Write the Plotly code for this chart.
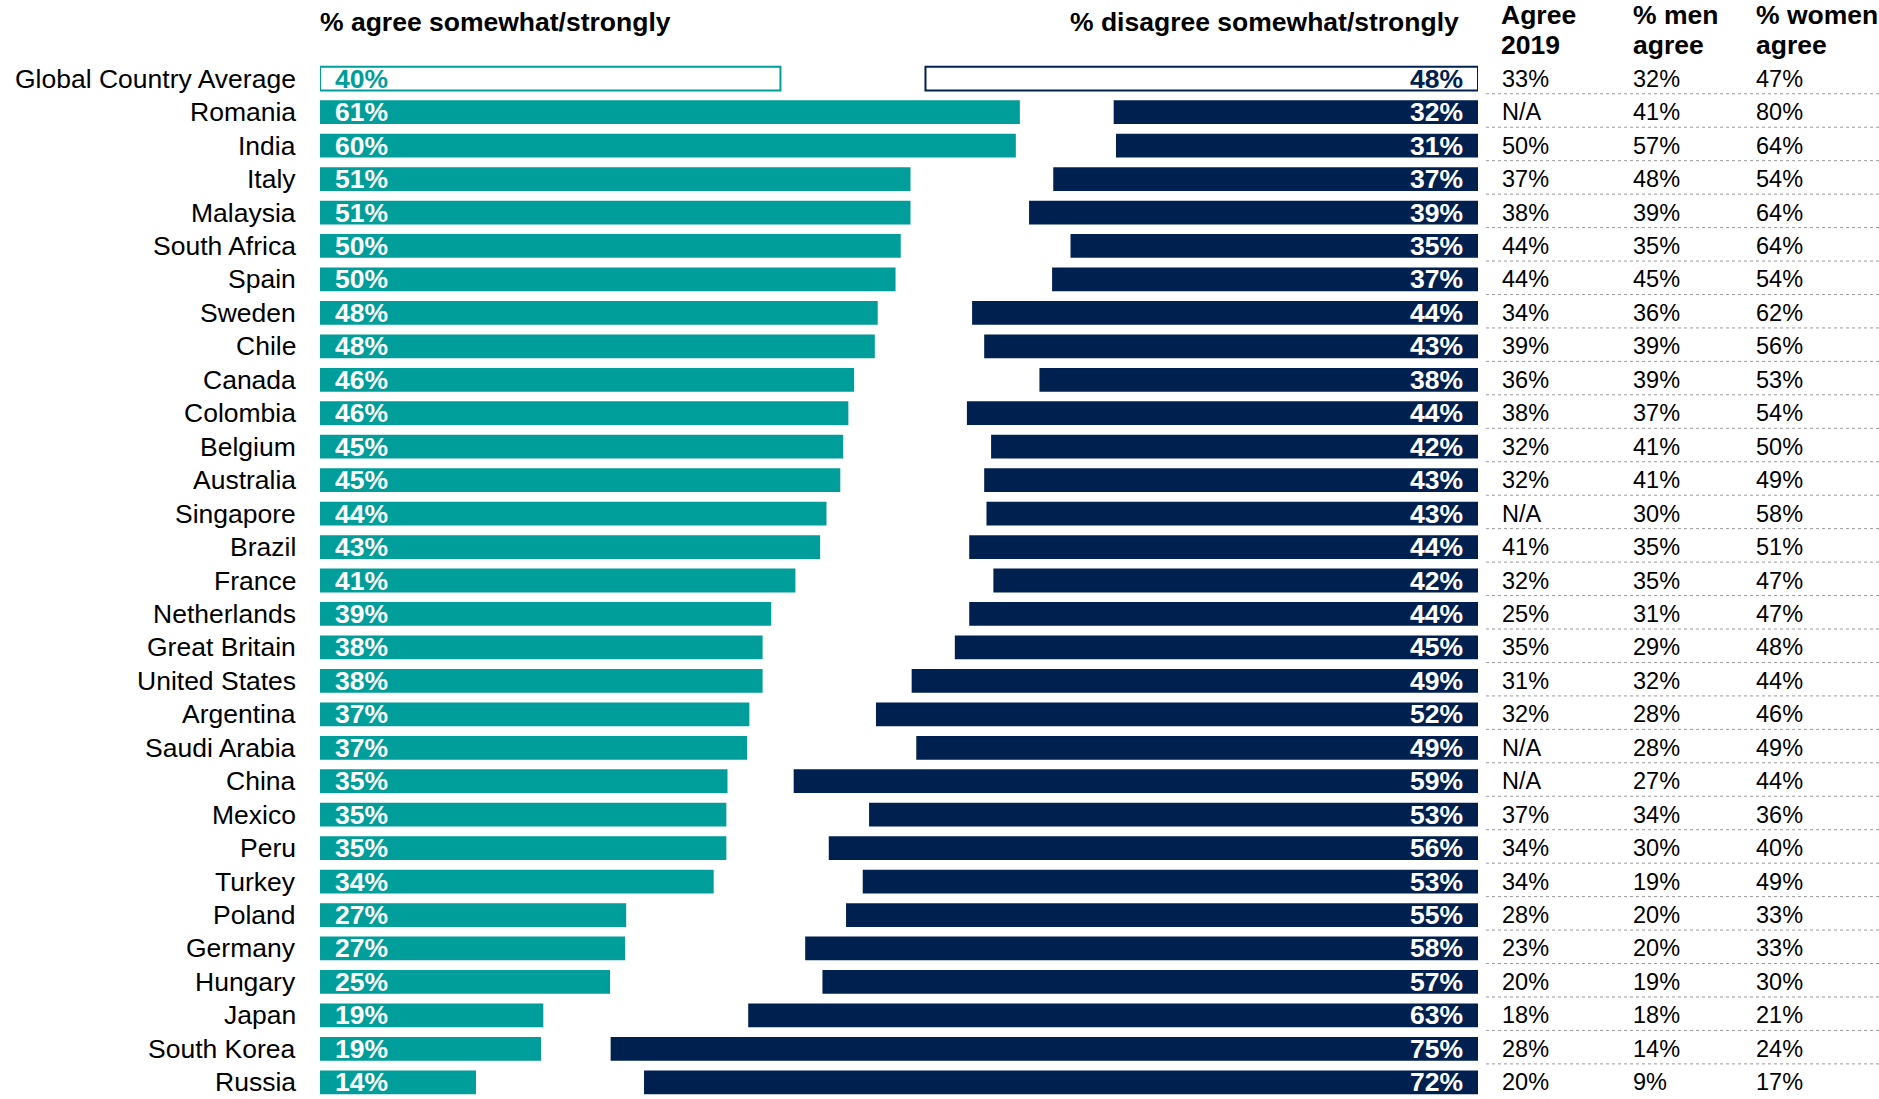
import plotly.graph_objects as go

# ---------------- data ----------------
countries = ["Global Country Average", "Romania", "India", "Italy", "Malaysia", "South Africa",
             "Spain", "Sweden", "Chile", "Canada", "Colombia", "Belgium", "Australia",
             "Singapore", "Brazil", "France", "Netherlands", "Great Britain", "United States",
             "Argentina", "Saudi Arabia", "China", "Mexico", "Peru", "Turkey", "Poland",
             "Germany", "Hungary", "Japan", "South Korea", "Russia"]

agree = [40.0, 60.8, 60.45, 51.3, 51.3, 50.45, 50.0, 48.45, 48.2, 46.4, 45.9, 45.45, 45.2,
         44.0, 43.45, 41.3, 39.2, 38.45, 38.45, 37.3, 37.1, 35.4, 35.3, 35.3, 34.2, 26.6,
         26.5, 25.2, 19.4, 19.2, 13.55]

disagree = [48.0, 31.65, 31.45, 36.9, 39.0, 35.4, 37.0, 43.95, 42.9, 38.1, 44.4, 42.3, 42.9,
            42.7, 44.2, 42.1, 44.2, 45.45, 49.2, 52.3, 48.8, 59.45, 52.9, 56.4, 53.45, 54.9,
            58.45, 56.95, 63.4, 75.35, 72.45]

agree_2019 = ["33%", "N/A", "50%", "37%", "38%", "44%", "44%", "34%", "39%", "36%", "38%",
              "32%", "32%", "N/A", "41%", "32%", "25%", "35%", "31%", "32%", "N/A", "N/A",
              "37%", "34%", "34%", "28%", "23%", "20%", "18%", "28%", "20%"]
men_agree = [32, 41, 57, 48, 39, 35, 45, 36, 39, 39, 37, 41, 41, 30, 35, 35, 31, 29, 32, 28,
             28, 27, 34, 30, 19, 20, 20, 19, 18, 14, 9]
women_agree = [47, 80, 64, 54, 64, 64, 54, 62, 56, 53, 54, 50, 49, 58, 51, 47, 47, 48, 44, 46,
               49, 44, 36, 40, 49, 33, 33, 30, 21, 24, 17]

header_agree = "% agree somewhat/strongly"
header_disagree = "% disagree somewhat/strongly"
table_headers = [("Agree", "2019"), ("% men", "agree"), ("% women", "agree")]

# ---------------- layout constants ----------------
W, H = 1879, 1099
ML, MR, MT, MB = 320, 401, 62, 0
PW = W - ML - MR
PH = H - MT - MB
R = 100.6
TEAL = "#009E9A"
NAVY = "#00214F"
FONT = "Liberation Sans, Arial, sans-serif"
BIG = 26.5
SMALL = 23.5


def px_x(p):
    return (p - ML) / PW


def px_y(p):
    return 1 + (MT - p) / PH


n = len(countries)
fig = go.Figure()

fig.add_trace(go.Bar(
    y=countries, x=agree, orientation="h", xaxis="x", yaxis="y", width=0.71,
    marker=dict(color=["white"] + [TEAL] * (n - 1),
                line=dict(color=TEAL, width=[2] + [0] * (n - 1))),
    hoverinfo="skip"))

fig.add_trace(go.Bar(
    y=countries, x=disagree, orientation="h", xaxis="x2", yaxis="y", width=0.71,
    marker=dict(color=["white"] + [NAVY] * (n - 1),
                line=dict(color=NAVY, width=[2] + [0] * (n - 1))),
    hoverinfo="skip"))

ann = []
for i, c in enumerate(countries):
    # country label
    ann.append(dict(x=0, xref="paper", xanchor="right", xshift=-22, y=c, yref="y",
                    text=c, showarrow=False, font=dict(family=FONT, size=BIG, color="black")))
    # bar labels
    ann.append(dict(x=0, xref="x", xanchor="left", xshift=13, y=c, yref="y",
                    text=f"<b>{int(agree[i] + 0.5)}%</b>", showarrow=False,
                    font=dict(family=FONT, size=BIG, color=TEAL if i == 0 else "white")))
    ann.append(dict(x=0, xref="x2", xanchor="right", xshift=-13, y=c, yref="y",
                    text=f"<b>{int(disagree[i] + 0.5)}%</b>", showarrow=False,
                    font=dict(family=FONT, size=BIG, color=NAVY if i == 0 else "white")))
    # table values
    for col_px, val in ((1500, agree_2019[i]), (1631, f"{men_agree[i]}%"), (1754, f"{women_agree[i]}%")):
        ann.append(dict(x=px_x(col_px), xref="paper", xanchor="left", y=c, yref="y",
                        text=val, showarrow=False,
                        font=dict(family=FONT, size=SMALL, color="black")))

# headers
ann.append(dict(x=px_x(318), xref="paper", xanchor="left", y=px_y(22), yref="paper",
                yanchor="middle", text=f"<b>{header_agree}</b>", showarrow=False,
                font=dict(family=FONT, size=BIG, color="black")))
ann.append(dict(x=px_x(1461), xref="paper", xanchor="right", y=px_y(22), yref="paper",
                yanchor="middle", text=f"<b>{header_disagree}</b>", showarrow=False,
                font=dict(family=FONT, size=BIG, color="black")))
for col_px, (l1, l2) in zip((1499, 1631, 1754), table_headers):
    ann.append(dict(x=px_x(col_px), xref="paper", xanchor="left", y=px_y(15), yref="paper",
                    yanchor="middle", text=f"<b>{l1}</b>", showarrow=False,
                    font=dict(family=FONT, size=BIG, color="black")))
    ann.append(dict(x=px_x(col_px), xref="paper", xanchor="left", y=px_y(45), yref="paper",
                    yanchor="middle", text=f"<b>{l2}</b>", showarrow=False,
                    font=dict(family=FONT, size=BIG, color="black")))

shapes = []
for k in range(n):
    yb = k - 0.55
    shapes.append(dict(type="line", xref="paper", x0=px_x(1486), x1=px_x(1879),
                       yref="y", y0=yb, y1=yb,
                       line=dict(color="#9a9a9a", width=1, dash="dot")))

fig.update_layout(
    width=W, height=H,
    margin=dict(l=ML, r=MR, t=MT, b=MB, pad=0),
    paper_bgcolor="white", plot_bgcolor="white",
    showlegend=False, barmode="overlay",
    xaxis=dict(range=[0, R], visible=False, fixedrange=True),
    xaxis2=dict(range=[R, 0], overlaying="x", visible=False, fixedrange=True),
    yaxis=dict(categoryorder="array", categoryarray=countries, range=[n - 0.5, -0.5],
               visible=False, fixedrange=True),
    annotations=ann, shapes=shapes,
)

fig.write_html("out.html",
               config={"displayModeBar": False},
               post_script="document.body.style.margin='0px';document.body.style.overflow='hidden';")
